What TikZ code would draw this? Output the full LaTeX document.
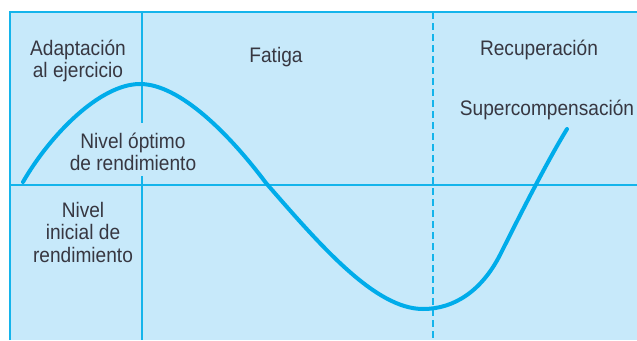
\documentclass[tikz,border=0pt]{standalone}
\usepackage{fontspec}
\setmainfont{Liberation Sans}[FakeStretch=0.91]
\definecolor{bgblue}{RGB}{199,233,250}
\definecolor{lineblue}{RGB}{20,180,235}
\definecolor{curveblue}{RGB}{0,172,234}
\definecolor{txt}{RGB}{55,55,65}
\tikzset{
  lbl/.style={text=txt, align=center, font=\fontsize{21}{22.5}\selectfont, inner sep=0pt},
  gridline/.style={draw=lineblue, line width=1.3pt},
}
\begin{document}
\begin{tikzpicture}[x=1pt,y=-1pt]
\useasboundingbox (0,0) rectangle (637,340);
\fill[bgblue] (10,12) rectangle (637,340);
\draw[gridline] (10,340) -- (10,12) -- (637,12);
\draw[gridline] (10,185) -- (637,185);
\draw[gridline] (142,12) -- (142,123);
\draw[gridline] (142,176) -- (142,340);
\draw[gridline, dash pattern=on 7pt off 4pt] (433,12) -- (433,340);
\draw[curveblue, line width=4pt, line cap=round]
  (23,182) .. controls (50,135) and (100,84) .. (140,84)
  .. controls (180,84) and (230,135) .. (266,183)
  .. controls (320,245) and (375,309) .. (423,309)
  .. controls (455,309) and (482,290) .. (500,255)
  .. controls (515,225) and (545,165) .. (567,129);
\node[lbl] (adap) at (78,61) {Adaptación\\al ejercicio};
\node[lbl] (fat) at (276,57) {Fatiga};
\node[lbl] (rec) at (539,50) {Recuperación};
\node[lbl] (sup) at (547,110) {Supercompensación};
\node[lbl] (opt) at (133,152) {Nivel óptimo\\de rendimiento};
\node[lbl] (ini) at (83,232) {Nivel\\inicial de\\rendimiento};
\end{tikzpicture}
\end{document}
